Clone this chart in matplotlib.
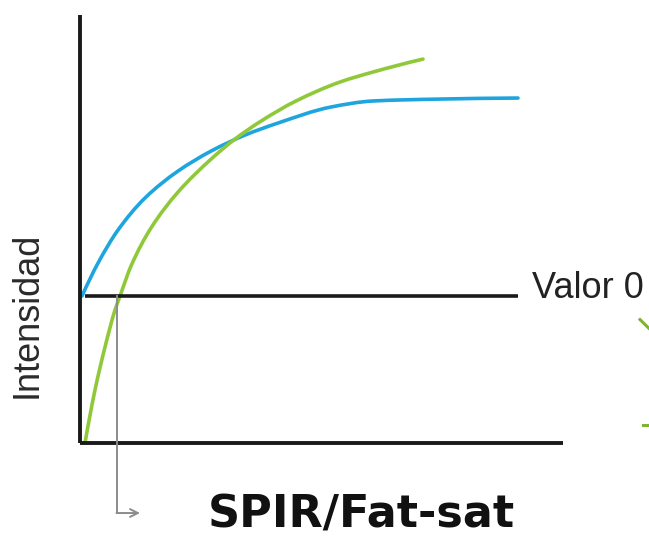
import matplotlib
matplotlib.use("Agg")
import matplotlib.pyplot as plt
from matplotlib.path import Path
from matplotlib.patches import PathPatch

# Recovery curves (time in arbitrary units, intensity relative to "Valor 0")
t_blue = [0.02, 0.18, 0.38, 0.65, 0.98, 1.31, 1.65, 1.98, 2.51, 2.93, 3.60, 4.38]
int_blue = [0.0, 0.224, 0.449, 0.667, 0.850, 0.986, 1.095, 1.177, 1.286, 1.327, 1.340, 1.347]

t_green = [0.05, 0.15, 0.25, 0.35, 0.40, 0.51, 0.71, 0.98, 1.31, 1.55, 1.81, 2.16, 2.60, 2.93, 3.43]
int_green = [-1.0, -0.639, -0.347, -0.095, 0.0, 0.204, 0.463, 0.707, 0.931, 1.068, 1.190, 1.327,
             1.456, 1.524, 1.612]

# Null point of the green curve, where the inversion pulse is applied
t_null = 0.37
zero_level = 0.0
min_level = -1.0

labels = {"zero": "Valor 0", "y": "Intensidad", "title": "SPIR/Fat-sat"}

BLUE = "#1ea5df"
GREEN = "#8fc93a"
BLACK = "#1a1a1a"
GREY = "#8c8c8c"


def pchip_path(xs, ys):
    """Shape-preserving cubic through the points, as Bezier segments."""
    n = len(xs)
    h = [xs[i + 1] - xs[i] for i in range(n - 1)]
    d = [(ys[i + 1] - ys[i]) / h[i] for i in range(n - 1)]
    m = [0.0] * n
    for k in range(1, n - 1):
        if d[k - 1] * d[k] <= 0:
            m[k] = 0.0
        else:
            w1 = 2 * h[k] + h[k - 1]
            w2 = h[k] + 2 * h[k - 1]
            m[k] = (w1 + w2) / (w1 / d[k - 1] + w2 / d[k])
    m[0] = ((2 * h[0] + h[1]) * d[0] - h[0] * d[1]) / (h[0] + h[1])
    if m[0] * d[0] <= 0:
        m[0] = 0.0
    m[-1] = ((2 * h[-1] + h[-2]) * d[-1] - h[-1] * d[-2]) / (h[-1] + h[-2])
    if m[-1] * d[-1] <= 0:
        m[-1] = 0.0
    verts = [(xs[0], ys[0])]
    codes = [Path.MOVETO]
    for i in range(n - 1):
        c1 = (xs[i] + h[i] / 3, ys[i] + m[i] * h[i] / 3)
        c2 = (xs[i + 1] - h[i] / 3, ys[i + 1] - m[i + 1] * h[i] / 3)
        verts += [c1, c2, (xs[i + 1], ys[i + 1])]
        codes += [Path.CURVE4] * 3
    return Path(verts, codes)


fig = plt.figure(figsize=(6.49, 5.38), dpi=100)
ax = fig.add_axes([0, 0, 1, 1])
ax.set_xlim(-0.80, 5.69)
ax.set_ylim(-1.646, 2.014)
ax.axis("off")

# Axes drawn by hand
ax.plot([0, 0], [min_level, 1.91], color=BLACK, lw=2.8, solid_capstyle="butt")
ax.plot([0, 4.83], [min_level, min_level], color=BLACK, lw=2.8, solid_capstyle="butt")
ax.plot([0.05, 4.38], [zero_level, zero_level], color=BLACK, lw=2.6, solid_capstyle="butt")

# Curves
for xs, ys, col in ((t_blue, int_blue, BLUE), (t_green, int_green, GREEN)):
    ax.add_patch(PathPatch(pchip_path(xs, ys), facecolor="none", edgecolor=col,
                           lw=2.6, capstyle="round", joinstyle="round"))

# Pointer from the null point down to the label
ax.plot([t_null, t_null], [zero_level, -1.476], color=GREY, lw=1.4)
ax.annotate("", xy=(0.60, -1.476), xytext=(t_null - 0.005, -1.476),
            arrowprops=dict(arrowstyle="->", color=GREY, lw=1.4,
                            shrinkA=0, shrinkB=0, mutation_scale=14))

# Text
ax.text(4.52, -0.014, labels["zero"], fontsize=26, family="Liberation Sans",
        color="#222222", ha="left", va="baseline")
ax.text(-0.53, -0.13, labels["y"], fontsize=26, family="Liberation Sans",
        color="#2a2a2a", rotation=90, ha="center", va="center")
ax.text(2.81, -1.576, labels["title"], fontsize=32, family="DejaVu Sans",
        fontweight="bold", color="#111111", ha="center", va="baseline")

# Partial strokes at the right edge
ax.plot([5.60, 5.69], [-0.16, -0.22], color="#7fb52e", lw=2.2, clip_on=True)
ax.plot([5.63, 5.69], [-0.88, -0.88], color="#7fb52e", lw=2.2, clip_on=True)

fig.savefig("out.png", dpi=100, facecolor="white")
